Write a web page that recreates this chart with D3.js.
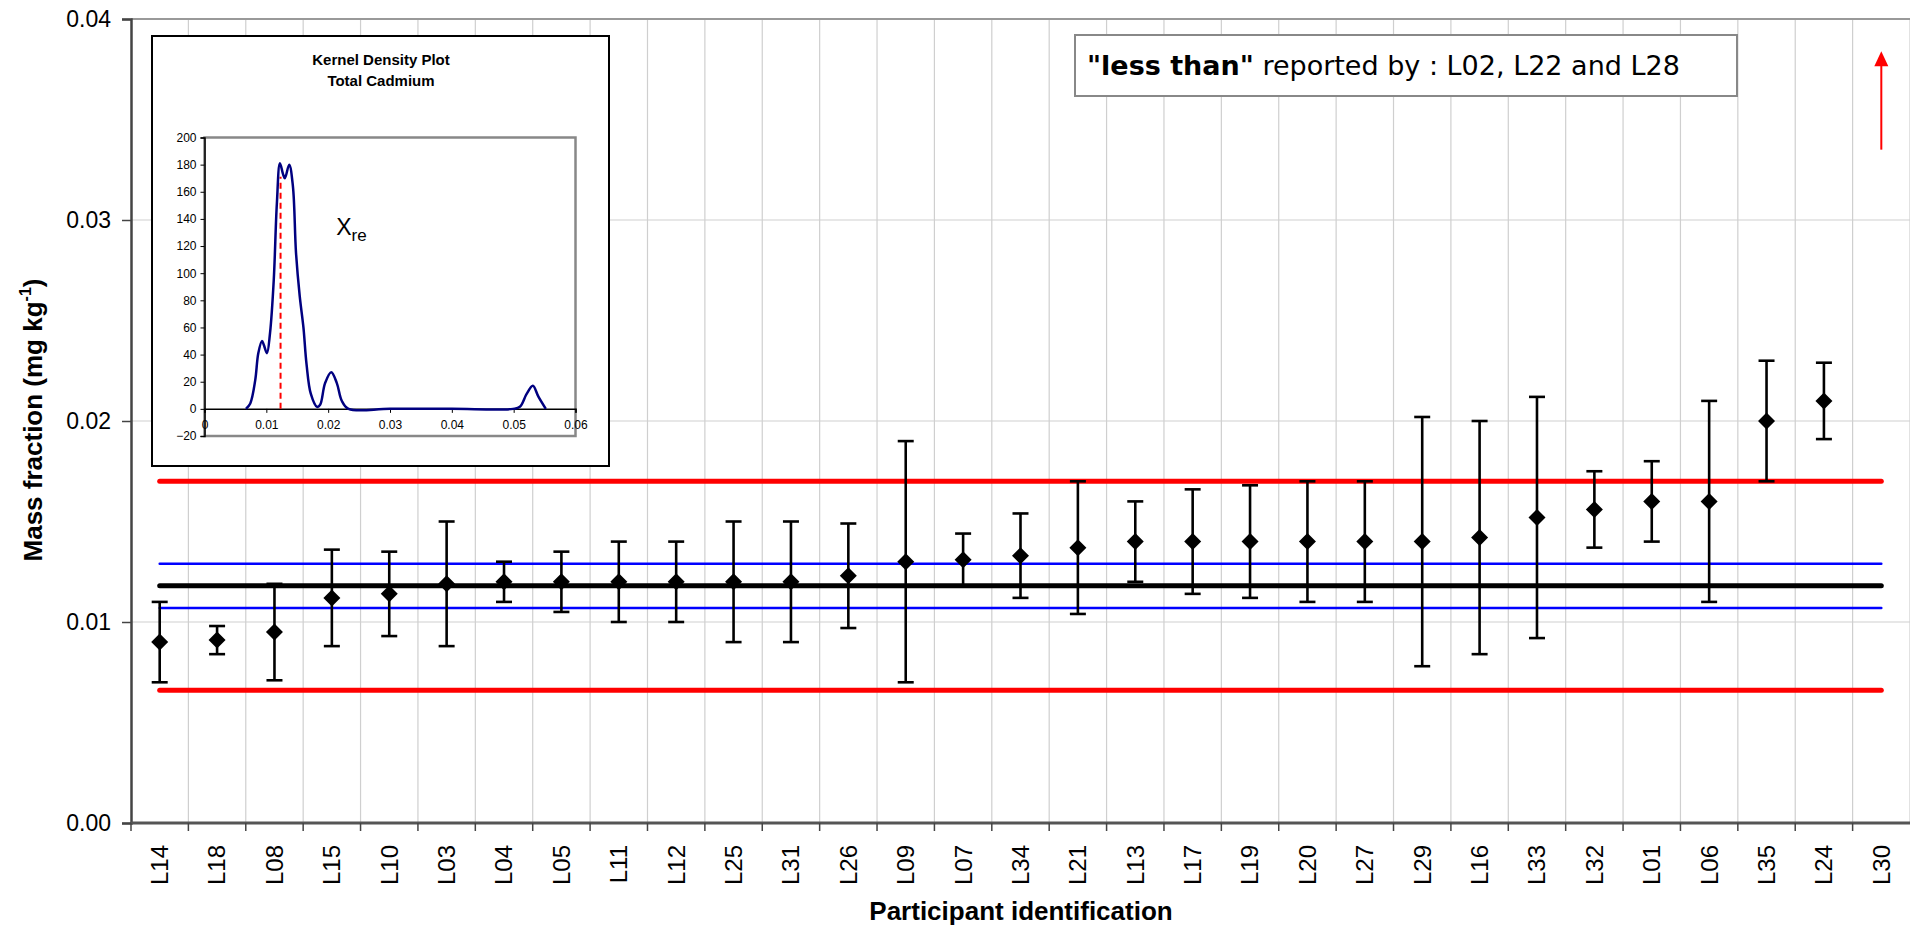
<!DOCTYPE html>
<html>
<head>
<meta charset="utf-8">
<script src="https://cdn.jsdelivr.net/npm/d3@7"></script>
<style>
  body { margin: 0; background: #fff; }
  svg { display: block; }
</style>
</head>
<body>
<svg id="chart" width="1910" height="926"></svg>
<script>
// ---- Participant results (mg kg-1), ordered by reported value ----
const participants = ["L14","L18","L08","L15","L10","L03","L04","L05","L11","L12","L25","L31","L26","L09","L07","L34",
  "L21","L13","L17","L19","L20","L27","L29","L16","L33","L32","L01","L06","L35","L24","L30"];
const massFraction = [0.0090,0.0091,0.0095,0.0112,0.0114,0.0119,0.0120,0.0120,0.0120,0.0120,0.0120,0.0120,0.0123,0.0130,0.0131,0.0133,
  0.0137,0.0140,0.0140,0.0140,0.0140,0.0140,0.0140,0.0142,0.0152,0.0156,0.0160,0.0160,0.0200,0.0210,null];
const expandedUncertainty = [0.0020,0.0007,0.0024,0.0024,0.0021,0.0031,0.0010,0.0015,0.0020,0.0020,0.0030,0.0030,0.0026,0.0060,0.0013,0.0021,
  0.0033,0.0020,0.0026,0.0028,0.0030,0.0030,0.0062,0.0058,0.0060,0.0019,0.0020,0.0050,0.0030,0.0019,null];

// Reference value, its uncertainty band and the +/- 2 sigma limits
const assignedValue = 0.0118;
const assignedUncertainty = 0.0011;
const twoSigma = 0.0052;

// Result above the plotted range, shown as an arrow
const offScaleParticipant = "L30";
const offScaleArrow = [0.0335, 0.0384];

const yTicks = [0, 0.01, 0.02, 0.03, 0.04];
const yTickLabels = ["0.00", "0.01", "0.02", "0.03", "0.04"];
const lessThanLabs = ["L02", "L22", "L28"];

// ---- Kernel density of the reported values ----
const kdeX = [0.0067,0.0074,0.0082,0.0087,0.0093,0.0096,0.0101,0.0106,0.0112,0.0117,0.0122,0.0127,0.0130,0.0137,0.0143,0.0148,0.0154,
  0.0160,0.0165,0.0172,0.0182,0.0187,0.0195,0.0205,0.0214,0.0222,0.0233,0.0300,0.0400,0.0499,0.0510,0.0521,0.0531,0.0540,0.0552];
const kdeY = [0,4,21,41,50,47,41,56,95,151,181,173,170,180,164,115,83,
  60,33,11,1.5,3,19,27,19,6,0,0,0,0,1.5,11,17,9,0];
const kdeMode = 0.0123;
const kdeXTicks = [0, 0.01, 0.02, 0.03, 0.04, 0.05, 0.06];
const kdeXTickLabels = ["0", "0.01", "0.02", "0.03", "0.04", "0.05", "0.06"];
const kdeYTicks = [-20, 0, 20, 40, 60, 80, 100, 120, 140, 160, 180, 200];

const svg = d3.select("#chart");
const SANS = "'Liberation Sans', Arial, sans-serif";

// ---------------- Main chart ----------------
const x = d3.scaleBand().domain(participants).range([131, 1910]).padding(0);
const y = d3.scaleLinear().domain([0, 0.04]).range([823, 19]);
const bw = x.bandwidth();
const cx = p => x(p) + bw / 2;

const grid = svg.append("g");
// vertical gridlines at category boundaries
grid.selectAll("line.v").data(participants.slice(1).concat(["__end"]))
  .join("line")
  .attr("x1", (d, i) => x(participants[0]) + (i + 1) * bw)
  .attr("x2", (d, i) => x(participants[0]) + (i + 1) * bw)
  .attr("y1", y(0.04)).attr("y2", y(0))
  .attr("stroke", "#cfcfcf").attr("stroke-width", 1.2);
// horizontal gridlines
grid.selectAll("line.h").data(yTicks.slice(1, -1))
  .join("line")
  .attr("x1", 131).attr("x2", 1910)
  .attr("y1", d => y(d)).attr("y2", d => y(d))
  .attr("stroke", "#cfcfcf").attr("stroke-width", 1.2);
// top border of the plot area
grid.append("line")
  .attr("x1", 131).attr("x2", 1910).attr("y1", y(0.04)).attr("y2", y(0.04))
  .attr("stroke", "#999").attr("stroke-width", 2);

// Y axis
const yAxis = svg.append("g").attr("transform", "translate(131,0)")
  .call(d3.axisLeft(y).tickValues(yTicks).tickFormat((d, i) => yTickLabels[i]).tickSize(9).tickPadding(11));
yAxis.select(".domain").attr("stroke", "#444").attr("stroke-width", 2.5);
yAxis.selectAll(".tick line").attr("stroke", "#444").attr("stroke-width", 1.5);
yAxis.selectAll(".tick text").attr("font-family", SANS).attr("font-size", 23).attr("fill", "#000");

// X axis (ticks on category boundaries)
const xAxisG = svg.append("g");
xAxisG.append("line").attr("x1", 131).attr("x2", 1910).attr("y1", y(0)).attr("y2", y(0))
  .attr("stroke", "#555").attr("stroke-width", 3);
xAxisG.selectAll("line.t").data(participants)
  .join("line")
  .attr("x1", d => x(d)).attr("x2", d => x(d))
  .attr("y1", y(0)).attr("y2", y(0) + 8)
  .attr("stroke", "#444").attr("stroke-width", 1.5);
xAxisG.selectAll("text").data(participants)
  .join("text")
  .attr("transform", d => `translate(${cx(d)},845) rotate(-90)`)
  .attr("text-anchor", "end").attr("dy", "0.35em")
  .attr("font-family", SANS).attr("font-size", 24)
  .text(d => d);

// Reference lines
const xStart = cx(participants[0]), xEnd = cx(participants[participants.length - 1]);
const refLines = [
  { v: assignedValue + twoSigma, c: "#ff0000", w: 5 },
  { v: assignedValue - twoSigma, c: "#ff0000", w: 5 },
  { v: assignedValue + assignedUncertainty, c: "#0000ff", w: 2.5 },
  { v: assignedValue - assignedUncertainty, c: "#0000ff", w: 2.5 },
  { v: assignedValue, c: "#000", w: 5 }
];
svg.append("g").selectAll("line").data(refLines).join("line")
  .attr("x1", xStart).attr("x2", xEnd)
  .attr("y1", d => y(d.v)).attr("y2", d => y(d.v))
  .attr("stroke", d => d.c).attr("stroke-width", d => d.w).attr("stroke-linecap", "round");

// Error bars and diamond markers
const results = participants.map((p, i) => ({ p, v: massFraction[i], u: expandedUncertainty[i] }))
  .filter(d => d.v !== null);
const bars = svg.append("g").attr("stroke", "#000").attr("stroke-width", 2.6);
bars.selectAll("line.s").data(results).join("line")
  .attr("x1", d => cx(d.p)).attr("x2", d => cx(d.p))
  .attr("y1", d => y(d.v + d.u)).attr("y2", d => y(d.v - d.u));
bars.selectAll("line.top").data(results).join("line")
  .attr("x1", d => cx(d.p) - 8).attr("x2", d => cx(d.p) + 8)
  .attr("y1", d => y(d.v + d.u)).attr("y2", d => y(d.v + d.u));
bars.selectAll("line.bot").data(results).join("line")
  .attr("x1", d => cx(d.p) - 8).attr("x2", d => cx(d.p) + 8)
  .attr("y1", d => y(d.v - d.u)).attr("y2", d => y(d.v - d.u));
const dm = 8.5;
svg.append("g").selectAll("path").data(results).join("path")
  .attr("d", d => {
    const px = cx(d.p), py = y(d.v);
    return `M${px},${py - dm}L${px + dm},${py}L${px},${py + dm}L${px - dm},${py}Z`;
  })
  .attr("fill", "#000");

// Off-scale result arrow
const ax = cx(offScaleParticipant);
svg.append("line").attr("x1", ax).attr("x2", ax)
  .attr("y1", y(offScaleArrow[0])).attr("y2", y(offScaleArrow[1]) + 12)
  .attr("stroke", "#ff0000").attr("stroke-width", 2);
svg.append("path")
  .attr("d", `M${ax},${y(offScaleArrow[1])}L${ax + 7},${y(offScaleArrow[1]) + 15}L${ax - 7},${y(offScaleArrow[1]) + 15}Z`)
  .attr("fill", "#ff0000");

// "less than" note
svg.append("rect").attr("x", 1075).attr("y", 35).attr("width", 662).attr("height", 61)
  .attr("fill", "#fff").attr("stroke", "#888").attr("stroke-width", 2);
const note = svg.append("text").attr("x", 1087).attr("y", 75)
  .attr("font-family", "'DejaVu Sans', Verdana, sans-serif").attr("font-size", 27);
note.append("tspan").attr("font-weight", "bold").text('"less than"');
note.append("tspan").text(" reported by : " + lessThanLabs.slice(0, -1).join(", ") + " and " + lessThanLabs[lessThanLabs.length - 1]);

// Axis titles
const yTitle = svg.append("text")
  .attr("transform", "translate(42,420) rotate(-90)")
  .attr("text-anchor", "middle")
  .attr("font-family", SANS).attr("font-size", 26).attr("font-weight", "bold");
yTitle.append("tspan").text("Mass fraction (mg kg");
yTitle.append("tspan").attr("font-size", 16).attr("dy", -11).text("-1");
yTitle.append("tspan").attr("dy", 11).text(")");

svg.append("text").attr("x", 1021).attr("y", 920).attr("text-anchor", "middle")
  .attr("font-family", SANS).attr("font-size", 26).attr("font-weight", "bold")
  .text("Participant identification");

// ---------------- Inset: kernel density plot ----------------
const inset = svg.append("g");
inset.append("rect").attr("x", 152).attr("y", 36).attr("width", 457).attr("height", 430)
  .attr("fill", "#fff").attr("stroke", "#000").attr("stroke-width", 2);
inset.append("text").attr("x", 381).attr("y", 65).attr("text-anchor", "middle")
  .attr("font-family", SANS).attr("font-size", 15).attr("font-weight", "bold").text("Kernel Density Plot");
inset.append("text").attr("x", 381).attr("y", 86).attr("text-anchor", "middle")
  .attr("font-family", SANS).attr("font-size", 15).attr("font-weight", "bold").text("Total Cadmium");

const kx = d3.scaleLinear().domain([0, 0.06]).range([204.5, 575.5]);
const ky = d3.scaleLinear().domain([-20, 200]).range([436, 137.5]);

inset.append("rect").attr("x", kx(0)).attr("y", ky(200)).attr("width", kx(0.06) - kx(0)).attr("height", ky(-20) - ky(200))
  .attr("fill", "#fff").attr("stroke", "#888").attr("stroke-width", 2.5);

const kyAxis = inset.append("g").attr("transform", `translate(${kx(0)},0)`)
  .call(d3.axisLeft(ky).tickValues(kdeYTicks).tickSize(4).tickPadding(4));
kyAxis.select(".domain").attr("stroke", "#000").attr("stroke-width", 1.5);
kyAxis.selectAll(".tick line").attr("stroke", "#000");
kyAxis.selectAll(".tick text").attr("font-family", SANS).attr("font-size", 12).attr("fill", "#000");

const kxAxis = inset.append("g").attr("transform", `translate(0,${ky(0)})`)
  .call(d3.axisBottom(kx).tickValues(kdeXTicks).tickFormat((d, i) => kdeXTickLabels[i]).tickSize(4).tickPadding(8));
kxAxis.select(".domain").attr("stroke", "#000").attr("stroke-width", 1.5);
kxAxis.selectAll(".tick line").attr("stroke", "#000");
kxAxis.selectAll(".tick text").attr("font-family", SANS).attr("font-size", 12).attr("fill", "#000");

// mode marker
inset.append("line").attr("x1", kx(kdeMode)).attr("x2", kx(kdeMode))
  .attr("y1", ky(0)).attr("y2", ky(171))
  .attr("stroke", "#ff0000").attr("stroke-width", 2).attr("stroke-dasharray", "6,4");

inset.append("path")
  .datum(kdeX.map((v, i) => [v, kdeY[i]]))
  .attr("d", d3.line().x(d => kx(d[0])).y(d => ky(d[1])).curve(d3.curveCatmullRom.alpha(0.5)))
  .attr("fill", "none").attr("stroke", "#000080").attr("stroke-width", 2.5);

const xre = inset.append("text").attr("x", kx(0.0213)).attr("y", ky(128))
  .attr("font-family", SANS).attr("font-size", 23);
xre.append("tspan").text("X");
xre.append("tspan").attr("font-size", 17).attr("dy", 6).text("re");
</script>
</body>
</html>
